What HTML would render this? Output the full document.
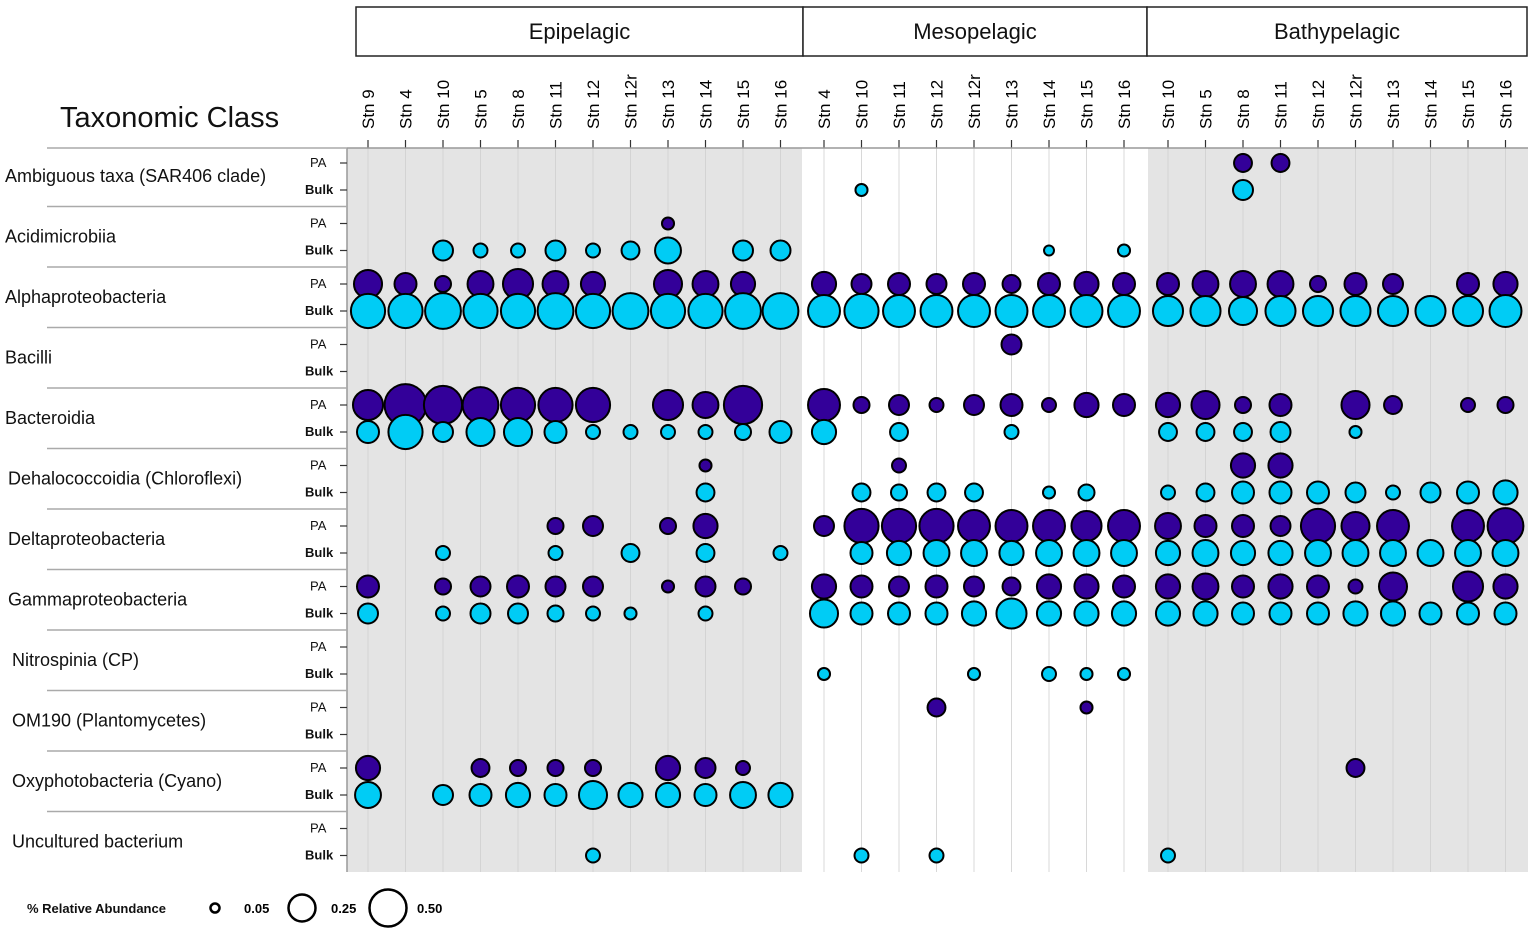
<!DOCTYPE html>
<html><head><meta charset="utf-8"><style>
body{margin:0;background:#fff;}
svg{display:block;font-family:"Liberation Sans",sans-serif;}
</style></head><body>
<svg id="chart" width="1535" height="934" viewBox="0 0 1535 934" xmlns="http://www.w3.org/2000/svg">
<rect x="0" y="0" width="1535" height="934" fill="#fff"/>
<g id="bg"></g><g id="grid"></g><g id="axes"></g><g id="marks"></g><g id="labels"></g>
<g>
<text x="27" y="913" font-size="13" font-weight="bold" fill="#111">% Relative Abundance</text>
<circle cx="215" cy="908" r="4.5" fill="#fff" stroke="#000" stroke-width="2.5"/>
<text x="244" y="913" font-size="13" font-weight="bold">0.05</text>
<circle cx="302" cy="908" r="13.5" fill="#fff" stroke="#000" stroke-width="2.5"/>
<text x="331" y="913" font-size="13" font-weight="bold">0.25</text>
<circle cx="388" cy="908" r="18.5" fill="#fff" stroke="#000" stroke-width="2.5"/>
<text x="417" y="913" font-size="13" font-weight="bold">0.50</text>
</g>
</svg>
<script>
const zones = ["Epipelagic","Mesopelagic","Bathypelagic"];
const epiStations = ["Stn 9","Stn 4","Stn 10","Stn 5","Stn 8","Stn 11","Stn 12","Stn 12r","Stn 13","Stn 14","Stn 15","Stn 16"];
const mesoStations = ["Stn 4","Stn 10","Stn 11","Stn 12","Stn 12r","Stn 13","Stn 14","Stn 15","Stn 16"];
const bathyStations = ["Stn 10","Stn 5","Stn 8","Stn 11","Stn 12","Stn 12r","Stn 13","Stn 14","Stn 15","Stn 16"];
const classes = ["Ambiguous taxa (SAR406 clade)","Acidimicrobiia","Alphaproteobacteria","Bacilli","Bacteroidia","Dehalococcoidia (Chloroflexi)","Deltaproteobacteria","Gammaproteobacteria","Nitrospinia (CP)","OM190 (Plantomycetes)","Oxyphotobacteria (Cyano)","Uncultured bacterium"];
const fractions = ["PA","Bulk"];
const Z12=[0,0,0,0,0,0,0,0,0,0,0,0], Z9=[0,0,0,0,0,0,0,0,0], Z10=[0,0,0,0,0,0,0,0,0,0];
const paValues = [
 [...Z12, ...Z9, 0,0,.11,.11,0,0,0,0,0,0],
 [0,0,0,0,0,0,0,0,.05,0,0,0, ...Z9, ...Z10],
 [.27,.166,.088,.23,.31,.23,.2,0,.27,.23,.2,0, .2,.137,.166,.137,.166,.11,.166,.2,.166, .166,.23,.23,.23,.088,.166,.137,0,.166,.2],
 [...Z12, 0,0,0,0,0,.137,0,0,0, ...Z10],
 [.31,.6,.5,.44,.4,.4,.4,0,.31,.23,.5,0, .35,.088,.137,.067,.137,.166,.067,.2,.166, .2,.27,.088,.166,0,.27,.11,0,.067,.088],
 [0,0,0,0,0,0,0,0,0,.05,0,0, 0,0,.067,0,0,0,0,0,0, 0,0,.2,.2,0,0,0,0,0,0],
 [0,0,0,0,0,.088,.137,0,.088,.2,0,0, .137,.4,.4,.4,.35,.35,.35,.31,.35, .23,.166,.166,.137,.4,.27,.35,0,.35,.44],
 [.166,0,.088,.137,.166,.137,.137,0,.05,.137,.088,0, .2,.166,.137,.166,.137,.11,.2,.2,.166, .2,.23,.166,.2,.166,.067,.27,0,.31,.2],
 [...Z12, ...Z9, ...Z10],
 [...Z12, 0,0,0,.11,0,0,0,.05,0, ...Z10],
 [.2,0,0,.11,.088,.088,.088,0,.2,.137,.067,0, ...Z9, 0,0,0,0,0,.11,0,0,0,0],
 [...Z12, ...Z9, ...Z10]
];
const bulkValues = [
 [...Z12, 0,.05,0,0,0,0,0,0,0, 0,0,.137,0,0,0,0,0,0,0],
 [0,0,.137,.067,.067,.137,.067,.11,.23,0,.137,.137, 0,0,0,0,0,0,.034,0,.05, ...Z10],
 [.4,.4,.44,.4,.4,.44,.4,.44,.4,.4,.44,.44, .35,.4,.35,.35,.35,.35,.35,.35,.35, .31,.31,.27,.31,.31,.31,.31,.31,.31,.35],
 [...Z12, ...Z9, ...Z10],
 [.166,.4,.137,.27,.27,.166,.067,.067,.067,.067,.088,.166, .2,0,.11,0,0,.067,0,0,0, .11,.11,.11,.137,0,.05,0,0,0,0],
 [0,0,0,0,0,0,0,0,0,.11,0,0, 0,.11,.088,.11,.11,0,.05,.088,0, .067,.11,.166,.166,.166,.137,.067,.137,.166,.2],
 [0,0,.067,0,0,.067,0,.11,0,.11,0,.067, 0,.166,.2,.23,.23,.2,.23,.23,.23, .2,.23,.2,.2,.23,.23,.23,.23,.23,.23],
 [.137,0,.067,.137,.137,.088,.067,.05,0,.067,0,0, .27,.166,.166,.166,.2,.31,.2,.2,.2, .2,.2,.166,.166,.166,.2,.2,.166,.166,.166],
 [...Z12, .05,0,0,0,.05,0,.067,.05,.05, ...Z10],
 [...Z12, ...Z9, ...Z10],
 [.23,0,.137,.166,.2,.166,.27,.2,.2,.166,.23,.2, ...Z9, ...Z10],
 [0,0,0,0,0,0,.067,0,0,0,0,0, 0,.067,0,.067,0,0,0,0,0, .067,0,0,0,0,0,0,0,0,0]
];

const NS="http://www.w3.org/2000/svg";
function mk(tag, attrs, parent){const e=document.createElementNS(NS,tag);for(const k in attrs)e.setAttribute(k,attrs[k]);parent.appendChild(e);return e;}
const groups=[epiStations,mesoStations,bathyStations];
const groupStart=[368,824,1168], sp=37.5;
const colX=[]; const colLabels=[];
groups.forEach((g,gi)=>g.forEach((s,i)=>{colX.push(groupStart[gi]+i*sp);colLabels.push(s);}));
function yPA(k){return 163+k*60.5;}
function yRow(k,f){return yPA(k)+f*27;}
function rScale(v){return 27*Math.sqrt(v);}
const topY=148, bottomY=872, axisX=347;
const bg=document.getElementById('bg'), grid=document.getElementById('grid'), axes=document.getElementById('axes'), marks=document.getElementById('marks'), labels=document.getElementById('labels');
const s1=mk('rect',{x:axisX,y:topY,width:802-axisX,height:bottomY-topY,fill:'#e4e4e4'},bg);


const s2=mk('rect',{x:1148,y:topY,width:1528-1148,height:bottomY-topY,fill:'#e4e4e4'},bg);


const bounds=[356,803,1147,1527];
zones.forEach((z,i)=>{
 const r=mk('rect',{x:bounds[i],y:7,width:bounds[i+1]-bounds[i],height:49,fill:'#fff',stroke:'#222','stroke-width':1.5},axes);
 
 
 const t=mk('text',{x:(bounds[i]+bounds[i+1])/2,y:39,'font-size':22,'text-anchor':'middle',fill:'#111'},labels);
 t.textContent=z;
 
 
});
colX.forEach((x,i)=>{
 const l=mk('line',{x1:x,y1:topY,x2:x,y2:bottomY,stroke:'#cfcfcf','stroke-width':0.8},grid);
 
 
 mk('line',{x1:x,y1:140,x2:x,y2:topY,stroke:'#333','stroke-width':1.2},axes);
 const t=mk('text',{x:0,y:0,'font-size':17,'text-anchor':'start',fill:'#000',transform:`translate(${x+6},129) rotate(-90)`},labels);
 t.textContent=colLabels[i];
 
 
});
mk('line',{x1:axisX,y1:topY,x2:1528,y2:topY,stroke:'#999','stroke-width':1.5},axes);
mk('line',{x1:axisX,y1:topY,x2:axisX,y2:bottomY,stroke:'#999','stroke-width':1.5},axes);
mk('line',{x1:47,y1:topY,x2:axisX,y2:topY,stroke:'#aaa','stroke-width':1.5},axes);
const tt=mk('text',{x:60,y:127,'font-size':29,fill:'#111'},labels);
tt.textContent='Taxonomic Class';


classes.forEach((c,k)=>{
 if(k>0){const sl=mk('line',{x1:47,y1:yPA(k)-17,x2:axisX,y2:yPA(k)-17,stroke:'#aaa','stroke-width':1.5},axes);
  
  }
 const t=mk('text',{x:k<5?5:(k<8?8:12),y:yPA(k)+19,'font-size':18,fill:'#111'},labels);
 t.textContent=c;
 
 
 fractions.forEach((f,fi)=>{
  const y=yRow(k,fi);
  mk('line',{x1:340,y1:y,x2:axisX,y2:y,stroke:'#333','stroke-width':1.2},axes);
  const ft=mk('text',{x:fi?305:310,y:y+4,'font-size':13,'font-weight':fi?'bold':'normal',fill:'#111'},labels);
  ft.textContent=f;
  
  
 });
});
[paValues,bulkValues].forEach((vals,fi)=>{
 vals.forEach((row,k)=>{
  row.forEach((v,i)=>{
   if(!v) return;
   const c=mk('circle',{cx:colX[i],cy:yRow(k,fi),r:rScale(v),fill:fi?'#00ccf5':'#330099',stroke:'#000','stroke-width':2},marks);
   
   
  });
 });
});
</script>
</body></html>
